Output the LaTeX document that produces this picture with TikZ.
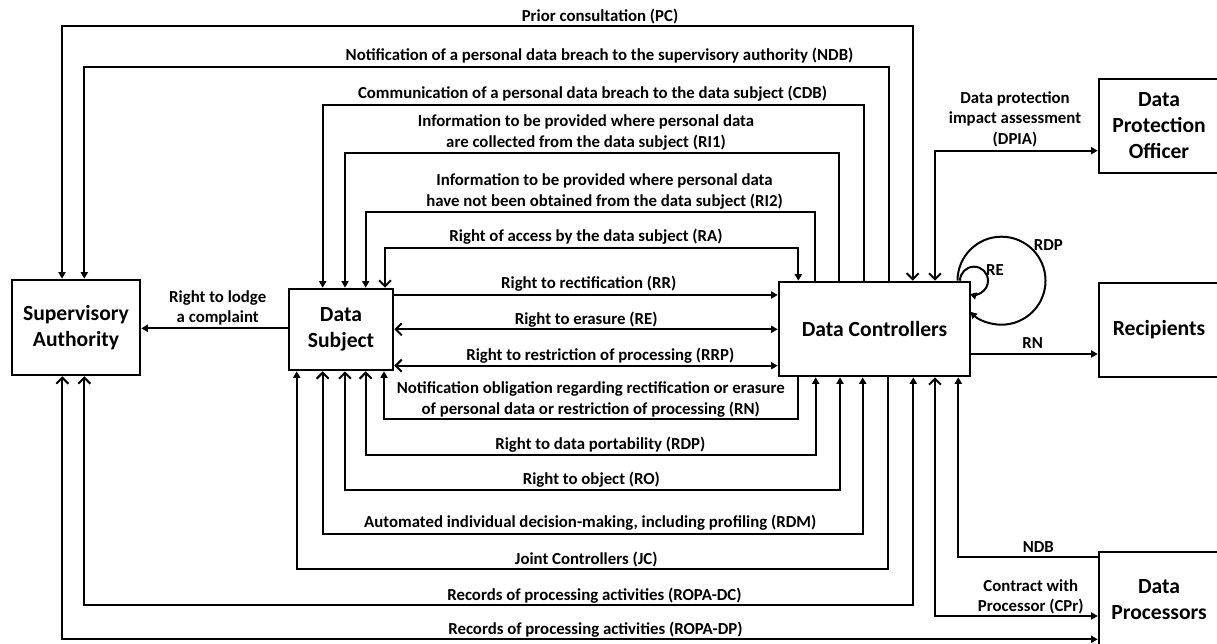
\documentclass[tikz,border=0pt]{standalone}
\usepackage{fontspec}
\setmainfont{Carlito}
\usetikzlibrary{arrows.meta}
\tikzset{
  ta/.tip={Triangle[width=7pt,length=6.5pt]},
  tb/.tip={Straight Barb[width=12pt,length=6pt]},
  ln/.style={line width=2pt},
  box/.style={draw,line width=2.6pt,font=\fontsize{21.6}{26}\selectfont\bfseries,align=center,inner sep=0pt},
  lab/.style={font=\fontsize{16.8}{20.5}\selectfont\bfseries,align=center,inner sep=0pt}
}
\begin{document}
\begin{tikzpicture}[x=1pt,y=1pt]
\useasboundingbox (0,0) rectangle (1217,644);
% boxes
\node[box,minimum width=128pt,minimum height=95pt] (SA) at (76,316.5) {Supervisory\\Authority};
\node[box,minimum width=104pt,minimum height=81pt] (DS) at (341,314.5) {Data\\Subject};
\node[box,minimum width=191pt,minimum height=94pt] (DC) at (874.5,315) {Data Controllers};
\node[box,minimum width=120pt,minimum height=94pt] (DPO) at (1159,518) {Data\\Protection\\Officer};
\node[box,minimum width=120pt,minimum height=94pt] (Rec) at (1159,314) {Recipients};
\node[box,minimum width=120pt,minimum height=96pt] (DP) at (1159,44) {Data\\Processors};
% labels
\node[lab] (lPC) at (600,627.3) {Prior consultation (PC)};
\node[lab] (lNDB) at (599.5,588.3) {Notification of a personal data breach to the supervisory authority (NDB)};
\node[lab] (lCDB) at (592.5,550.7) {Communication of a personal data breach to the data subject (CDB)};
\node[lab] (lRI1) at (586,511.3) {Information to be provided where personal data\\are collected from the data subject (RI1)};
\node[lab] (lRI2) at (604.5,452.3) {Information to be provided where personal data\\have not been obtained from the data subject (RI2)};
\node[lab] (lRA) at (586,407.3) {Right of access by the data subject (RA)};
\node[lab] (lRR) at (588.7,360.7) {Right to rectification (RR)};
\node[lab] (lRE) at (586.2,324.7) {Right to erasure (RE)};
\node[lab] (lRRP) at (600.3,288.3) {Right to restriction of processing (RRP)};
\node[lab] (lRN) at (590.8,244.3) {Notification obligation regarding rectification or erasure\\of personal data or restriction of processing (RN)};
\node[lab] (lRDP) at (600.3,199.7) {Right to data portability (RDP)};
\node[lab] (lRO) at (591.3,164.7) {Right to object (RO)};
\node[lab] (lRDM) at (590.2,121.3) {Automated individual decision-making, including profiling (RDM)};
\node[lab] (lJC) at (586.2,84.7) {Joint Controllers (JC)};
\node[lab] (lROPADC) at (594.5,48.3) {Records of processing activities (ROPA-DC)};
\node[lab] (lROPADP) at (595.5,14.7) {Records of processing activities (ROPA-DP)};
\node[lab] (lCPr) at (1030.8,47.3) {Contract with\\Processor (CPr)};
\node[lab] (lNDB2) at (1038.3,97.3) {NDB};
\node[lab] (lRN2) at (1032.7,300.7) {RN};
\node[lab] (lDPIA) at (1015,525) {Data protection\\impact assessment\\(DPIA)};
\node[lab] (lLodge) at (217.7,336) {Right to lodge\\a complaint};
\node[lab] (lRDPloop) at (1048.3,399) {RDP};
\node[lab] (lREloop) at (995,374) {RE};
% connectors
\draw[ln,-ta] (DS.west |- 0,315.7) -- (SA.east |- 0,315.7);
\draw[ln,ta-tb] (62,0 |- SA.north) -- (62,618) -- (912.7,618) -- (912.7,0 |- DC.north);
\draw[ln,-ta] (888.7,0 |- DC.north) -- (888.7,577.3) -- (84.3,577.3) -- (84.3,0 |- SA.north);
\draw[ln,-ta] (864.3,0 |- DC.north) -- (864.3,538.7) -- (322.7,538.7) -- (322.7,0 |- DS.north);
\draw[ln,-ta] (839.3,0 |- DC.north) -- (839.3,490.7) -- (345,490.7) -- (345,0 |- DS.north);
\draw[ln,-ta] (815.3,0 |- DC.north) -- (815.3,431.7) -- (365.7,431.7) -- (365.7,0 |- DS.north);
\draw[ln,tb-ta] (385,0 |- DS.north) -- (385,396.3) -- (798.3,396.3) -- (798.3,0 |- DC.north);
\draw[ln,-ta] (DS.east |- 0,349) -- (DC.west |- 0,349);
\draw[ln,tb-ta] (DS.east |- 0,314.7) -- (DC.west |- 0,314.7);
\draw[ln,tb-ta] (DS.east |- 0,278.3) -- (DC.west |- 0,278.3);
\draw[ln,-ta] (798.3,0 |- DC.south) -- (798.3,225) -- (384,225) -- (384,0 |- DS.south);
\draw[ln,tb-ta] (365.7,0 |- DS.south) -- (365.7,189) -- (815.7,189) -- (815.7,0 |- DC.south);
\draw[ln,tb-ta] (345,0 |- DS.south) -- (345,154) -- (840,154) -- (840,0 |- DC.south);
\draw[ln,tb-ta] (322.7,0 |- DS.south) -- (322.7,109.7) -- (862.7,109.7) -- (862.7,0 |- DC.south);
\draw[ln,-ta] (888.3,0 |- DC.south) -- (888.3,74.7) -- (296.7,74.7) -- (296.7,0 |- DS.south);
\draw[ln,tb-ta] (84.3,0 |- SA.south) -- (84.3,39) -- (913.3,39) -- (913.3,0 |- DC.south);
\draw[ln,tb-ta] (62.3,0 |- SA.south) -- (62.3,4.7) -- (DP.west |- 0,4.7);
\draw[ln,tb-ta] (935,0 |- DC.south) -- (935,28) -- (DP.west |- 0,28);
\draw[ln,-ta] (DP.west |- 0,86.7) -- (958.3,86.7) -- (958.3,0 |- DC.south);
\draw[ln,-ta] (DC.east |- 0,290) -- (Rec.west |- 0,290);
\draw[ln,tb-ta] (935,0 |- DC.north) -- (935,493.3) -- (DPO.west |- 0,493.3);
% self loops
\draw[ln,-ta] (957.5,0 |- DC.north) arc[start angle=180,end angle=-135,radius=44pt];
\draw[ln,-ta] (960,0 |- DC.north) arc[start angle=180,end angle=-107,radius=14pt];
\end{tikzpicture}
\end{document}
